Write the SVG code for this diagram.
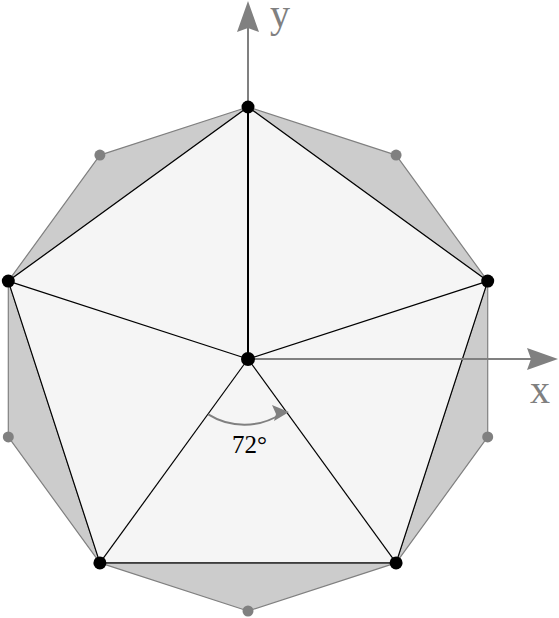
<svg xmlns="http://www.w3.org/2000/svg" width="559" height="618" viewBox="0 0 559 618">
<style>
.tri{fill:#cccccc;stroke:#808080;stroke-width:1.2;stroke-linejoin:round}
.pent{fill:#f5f5f5;stroke:#000;stroke-width:1.2;stroke-linejoin:round}
.spoke{stroke:#000;stroke-width:1.2}
.axis{stroke:#808080;stroke-width:2;fill:none}
.vb{fill:#000}
.vg{fill:#808080}
.lab{font-family:"Liberation Serif",serif;fill:#808080}
</style>
<g id="shading">
<polygon class="tri" points="248,107 99.9,155.1 8.3,281.1"/>
<polygon class="tri" points="248,107 396.1,155.1 487.7,281.1"/>
<polygon class="tri" points="487.7,281.1 487.7,436.9 396.1,562.9"/>
<polygon class="tri" points="396.1,562.9 248,611 99.9,562.9"/>
<polygon class="tri" points="99.9,562.9 8.3,436.9 8.3,281.1"/>
</g>
<g id="pentagon">
<polygon class="pent" points="248,107 487.7,281.1 396.1,562.9 99.9,562.9 8.3,281.1"/>
</g>
<g id="connectors">
<line class="spoke" x1="248" y1="359" x2="487.7" y2="281.1"/>
<line class="spoke" x1="248" y1="359" x2="396.1" y2="562.9"/>
<line class="spoke" x1="248" y1="359" x2="99.9" y2="562.9"/>
<line class="spoke" x1="248" y1="359" x2="8.3" y2="281.1"/>
<line class="axis" x1="248" y1="359" x2="248" y2="6"/>
<polygon points="248,1 259,32 248,28 237,32" fill="#808080"/>
<line class="axis" x1="248" y1="359" x2="552" y2="359"/>
<polygon points="558,359 527,370 531,359 527,348" fill="#808080"/>
<line x1="248" y1="359" x2="248" y2="107" stroke="#000" stroke-width="2"/>
<path class="axis" d="M208.2,414.4 A68,68 0 0 0 281,414"/>
<polygon points="289,412 274,421 276,414 272,405" fill="#808080"/>
</g>
<g id="vertices">
<circle class="vg" cx="99.9" cy="155.1" r="5.5"/>
<circle class="vg" cx="396.1" cy="155.1" r="5.5"/>
<circle class="vg" cx="487.7" cy="436.9" r="5.5"/>
<circle class="vg" cx="248" cy="611" r="5.5"/>
<circle class="vg" cx="8.3" cy="436.9" r="5.5"/>
<circle class="vb" cx="248" cy="107" r="6.5"/>
<circle class="vb" cx="487.7" cy="281.1" r="6.5"/>
<circle class="vb" cx="396.1" cy="562.9" r="6.5"/>
<circle class="vb" cx="99.9" cy="562.9" r="6.5"/>
<circle class="vb" cx="8.3" cy="281.1" r="6.5"/>
<circle class="vb" cx="248" cy="359" r="7"/>
</g>
<g id="labels">
<text class="lab" x="270" y="27" font-size="40">y</text>
<text class="lab" x="530" y="403" font-size="40">x</text>
<text x="249.5" y="453" font-size="25" text-anchor="middle" font-family="Liberation Serif,serif" fill="#000">72°</text>
</g>
</svg>
